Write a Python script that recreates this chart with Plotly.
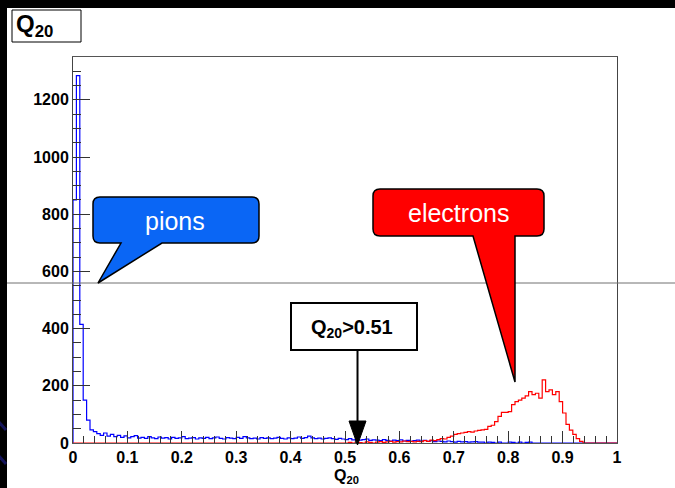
import plotly.graph_objects as go

# ---- histogram data: 160 bins over Q20 in [0, 1] ----
N_BINS = 160
Q_MIN, Q_MAX = 0.0, 1.0

pion_counts = [
    850, 1285, 415, 150, 80, 46, 40, 33, 27, 35, 24, 30, 22, 27, 20, 25, 18, 22, 26, 17,
    20, 16, 22, 18, 15, 21, 17, 19, 14, 20, 16, 18, 22, 15, 17, 19, 14, 18, 16, 20,
    15, 18, 21, 16, 14, 19, 17, 15, 20, 16, 22, 18, 15, 17, 14, 19, 16, 18, 15, 17,
    20, 16, 14, 18, 15, 17, 21, 16, 19, 24, 18, 15, 17, 14, 16, 18, 15, 13, 16, 14,
    12, 15, 11, 13, 10, 12, 14, 9, 11, 10, 8, 12, 9, 7, 10, 8, 11, 7, 9, 6,
    8, 10, 7, 9, 6, 8, 5, 7, 6, 4, 7, 5, 3, 6, 4, 5, 3, 4, 5, 3,
    3, 0, 3, 2, 0, 3, 0, 0, 3, 2, 0, 3, 0, 2, 3, 0, 0, 0, 0, 0,
    0, 0, 0, 0, 0, 0, 0, 0, 0, 0, 0, 0, 0, 0, 0, 0, 0, 0, 0, 0,
]

electron_counts = [0] * 80 + [
    0, 2, 0, 3, 1, 0, 4, 2, 0, 3, 5, 2, 4, 6, 3, 5, 4, 7, 5, 6,
    4, 6, 5, 8, 6, 10, 8, 12, 15, 14, 20, 24, 30, 33, 35, 37, 40, 38, 42, 44,
    46, 48, 58, 62, 75, 93, 107, 107, 110, 134, 145, 150, 157, 165, 180, 169, 174, 157, 221, 180,
    186, 169, 180, 145, 105, 65, 45, 30, 15, 6, 0, 0, 0, 0, 0, 0, 0, 0, 0, 0,
]

x_ticks = [0, 0.1, 0.2, 0.3, 0.4, 0.5, 0.6, 0.7, 0.8, 0.9, 1]
x_tick_labels = ["0", "0.1", "0.2", "0.3", "0.4", "0.5", "0.6", "0.7", "0.8", "0.9", "1"]
y_ticks = [0, 200, 400, 600, 800, 1000, 1200]
y_tick_labels = ["0", "200", "400", "600", "800", "1000", "1200"]

CUT_VALUE = 0.51
CUT_ARROW_Q = 0.523

# ---- figure geometry (pixels) ----
W, H = 675, 488
ML, MR, MT, MB = 73, 58, 57, 45
PW, PH = W - ML - MR, H - MT - MB


def px(x):
    return (x - ML) / PW


def py(y):
    return (H - MB - y) / PH


def step_outline(counts):
    width = (Q_MAX - Q_MIN) / N_BINS
    edges = [Q_MIN + i * width for i in range(N_BINS + 1)]
    return [Q_MIN] + edges, [0] + list(counts) + [0]


def callout_path(x0, y0, x1, y1, r, tail):
    (bx_r, by_r), (tx, ty), (bx_l, by_l) = tail
    pts = [
        ("M", [(x0 + r, y0)]),
        ("L", [(x1 - r, y0)]),
        ("Q", [(x1, y0), (x1, y0 + r)]),
        ("L", [(x1, y1 - r)]),
        ("Q", [(x1, y1), (x1 - r, y1)]),
        ("L", [(bx_r, by_r)]),
        ("L", [(tx, ty)]),
        ("L", [(bx_l, by_l)]),
        ("L", [(x0 + r, y1)]),
        ("Q", [(x0, y1), (x0, y1 - r)]),
        ("L", [(x0, y0 + r)]),
        ("Q", [(x0, y0), (x0 + r, y0)]),
    ]
    out = []
    for cmd, coords in pts:
        out.append(cmd + " " + " ".join(f"{px(a):.5f},{py(b):.5f}" for a, b in coords))
    return " ".join(out) + " Z"


FONT = "Liberation Sans, Arial, Helvetica, sans-serif"

fig = go.Figure()

xb, yb = step_outline(pion_counts)
fig.add_trace(go.Scatter(x=xb, y=yb, mode="lines", line=dict(color="#0000ff", width=1.2, shape="hv"),
                         name="pions", hoverinfo="skip"))
xr, yr = step_outline(electron_counts)
fig.add_trace(go.Scatter(x=xr, y=yr, mode="lines", line=dict(color="#ff0000", width=1.2, shape="hv"),
                         name="electrons", hoverinfo="skip"))

shapes = []
# white canvas over the dark page
shapes.append(dict(type="rect", xref="paper", yref="paper", layer="below",
                   x0=px(7), x1=px(W + 2), y0=py(H + 2), y1=py(8),
                   fillcolor="white", line=dict(width=0)))
# dark blue streaks on the left edge
for ya, yb_ in [(421, 430), (455, 464)]:
    shapes.append(dict(type="line", xref="paper", yref="paper", layer="below",
                       x0=px(-2), x1=px(6), y0=py(ya), y1=py(yb_),
                       line=dict(color="#14145a", width=3)))
# horizontal guide line across the page
shapes.append(dict(type="line", xref="paper", yref="paper",
                   x0=px(7), x1=px(W + 2), y0=py(283), y1=py(283),
                   line=dict(color="#707070", width=1)))
# title box
shapes.append(dict(type="rect", xref="paper", yref="paper",
                   x0=px(12), x1=px(81), y0=py(42), y1=py(10),
                   fillcolor="white", line=dict(color="black", width=1)))
# pions callout
shapes.append(dict(type="path", xref="paper", yref="paper",
                   path=callout_path(93, 197, 259, 243, 7, [(162, 243), (98, 283), (121, 243)]),
                   fillcolor="#0a66f5", line=dict(color="black", width=1.5)))
# electrons callout
shapes.append(dict(type="path", xref="paper", yref="paper",
                   path=callout_path(373, 189, 544, 236, 7, [(515, 236), (515, 382), (473, 236)]),
                   fillcolor="#ff0000", line=dict(color="black", width=1.5)))
# cut label box
shapes.append(dict(type="rect", xref="paper", yref="paper",
                   x0=px(291), x1=px(417), y0=py(350), y1=py(303),
                   fillcolor="white", line=dict(color="black", width=2)))
# arrow pointing at the cut
shapes.append(dict(type="line", xref="x", yref="paper",
                   x0=CUT_ARROW_Q, x1=CUT_ARROW_Q, y0=py(350), y1=py(424),
                   line=dict(color="black", width=2)))
shapes.append(dict(type="path", xref="paper", yref="paper",
                   path=(f"M {CUT_ARROW_Q - 8.5 / PW:.5f},{py(421):.5f} "
                         f"L {CUT_ARROW_Q + 8.5 / PW:.5f},{py(421):.5f} "
                         f"L {CUT_ARROW_Q:.5f},{py(445):.5f} Z"),
                   fillcolor="black", line=dict(color="black", width=1)))

annotations = [
    dict(x=px(14), y=py(26), xref="paper", yref="paper", xanchor="left", yanchor="middle",
         text="Q<sub>20</sub>", showarrow=False,
         font=dict(family=FONT, size=24, color="black", weight="bold")),
    dict(x=px(175), y=py(221), xref="paper", yref="paper", xanchor="center", yanchor="middle",
         text="pions", showarrow=False, font=dict(family=FONT, size=25, color="white")),
    dict(x=px(458), y=py(213), xref="paper", yref="paper", xanchor="center", yanchor="middle",
         text="electrons", showarrow=False, font=dict(family=FONT, size=25, color="white")),
    dict(x=px(352), y=py(328), xref="paper", yref="paper", xanchor="center", yanchor="middle",
         text=f"Q<sub>20</sub>&gt;{CUT_VALUE:.2f}", showarrow=False,
         font=dict(family=FONT, size=20, color="black", weight="bold")),
    dict(x=px(346), y=py(476), xref="paper", yref="paper", xanchor="center", yanchor="middle",
         text="Q<sub>20</sub>", showarrow=False,
         font=dict(family=FONT, size=16, color="black", weight="bold")),
]

fig.update_layout(
    width=W, height=H,
    margin=dict(l=ML, r=MR, t=MT, b=MB, pad=0),
    paper_bgcolor="black",
    plot_bgcolor="white",
    showlegend=False,
    shapes=shapes,
    annotations=annotations,
    xaxis=dict(
        range=[Q_MIN, Q_MAX], tickvals=x_ticks, ticktext=x_tick_labels,
        ticks="inside", ticklen=12, tickwidth=1, tickcolor="#333",
        minor=dict(dtick=0.02, ticks="inside", ticklen=7, tickcolor="#333", showgrid=False),
        showline=True, linecolor="#555", linewidth=1, mirror=True,
        showgrid=False, zeroline=False,
        tickfont=dict(family=FONT, size=16, color="black", weight="bold"),
    ),
    yaxis=dict(
        range=[0, 1350], tickvals=y_ticks, ticktext=y_tick_labels,
        ticks="inside", ticklen=17, tickwidth=1, tickcolor="#333",
        minor=dict(dtick=50, ticks="inside", ticklen=8, tickcolor="#333", showgrid=False),
        showline=True, linecolor="#444", linewidth=1, mirror=True,
        showgrid=False, zeroline=False,
        tickfont=dict(family=FONT, size=16, color="black", weight="bold"),
    ),
)

fig.write_html("out.html")
